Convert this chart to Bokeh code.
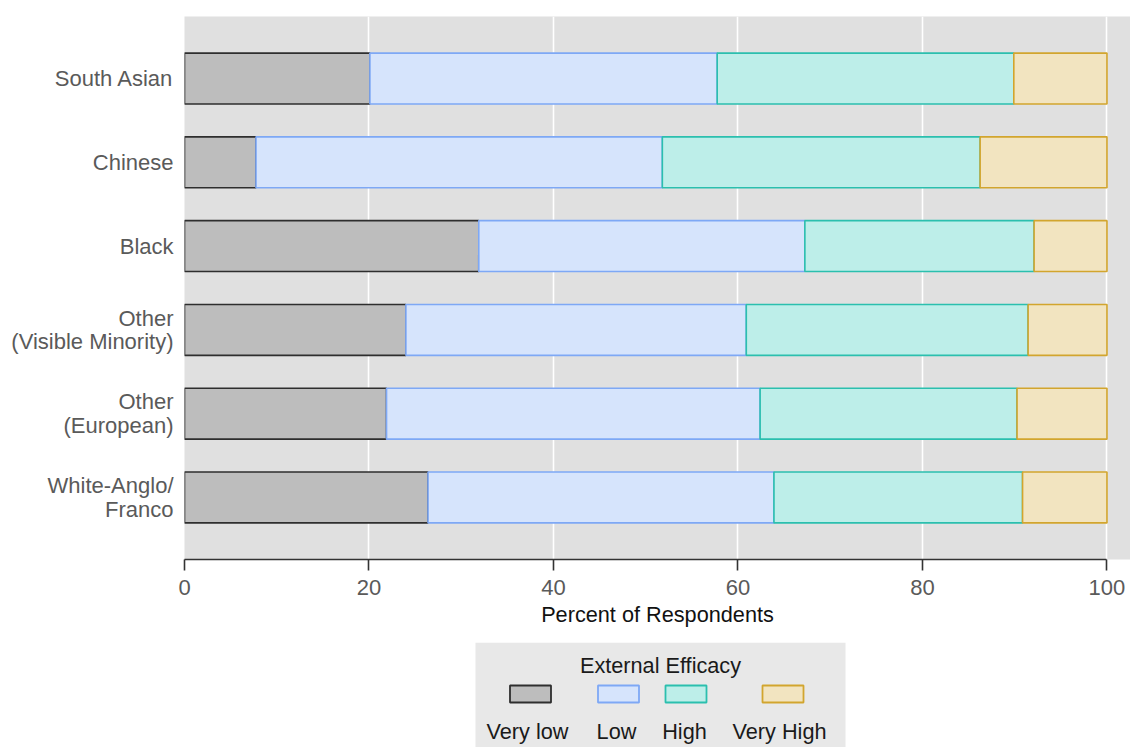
from bokeh.plotting import figure
from bokeh.models import FactorRange, Range1d, FixedTicker, ColumnDataSource
from bokeh.layouts import column
from bokeh.embed import file_html
from bokeh.resources import INLINE
from bokeh.core.properties import value

# ---- data ----
groups = ["South Asian", "Chinese", "Black", "Other\n(Visible Minority)",
          "Other\n(European)", "White-Anglo/\nFranco"]
levels = ["Very low", "Low", "High", "Very High"]
very_low = [20.1, 7.75, 31.9, 24.0, 21.9, 26.4]
low = [37.65, 44.05, 35.35, 36.9, 40.5, 37.5]
high = [32.15, 34.45, 24.85, 30.55, 27.85, 26.95]
very_high = [10.1, 13.75, 7.9, 8.55, 9.75, 9.15]
x_ticks = [0, 20, 40, 60, 80, 100]
legend_title = "External Efficacy"
x_label = "Percent of Respondents"

# ---- styles ----
fills = ["#bdbdbd", "#d6e4fc", "#bdeee9", "#f2e4c0"]
lines = ["#2e2e2e", "#7ea8f5", "#2bbfae", "#d2a52e"]
FONT = "Liberation Sans"
FS = "21.7px"
keys = ["very_low", "low", "high", "very_high"]

source = ColumnDataSource(dict(group=groups, very_low=very_low, low=low,
                               high=high, very_high=very_high))

p = figure(width=1130, height=634, output_backend="svg", toolbar_location=None,
           y_range=FactorRange(factors=groups[::-1], range_padding=0.08),
           x_range=Range1d(0, 102.55),
           min_border_left=184, min_border_right=0, min_border_top=16,
           min_border_bottom=75)
p.background_fill_color = "#e0e0e0"
p.border_fill_color = "white"
p.outline_line_color = None

p.hbar_stack(keys, y="group", height=0.607, source=source,
             fill_color=fills, line_color=lines, line_width=1.6)

# x axis
xa = p.xaxis[0]
xa.ticker = FixedTicker(ticks=x_ticks)
xa.minor_tick_line_color = None
xa.major_tick_in = 0
xa.major_tick_out = 11
xa.axis_line_color = "#333333"
xa.axis_line_width = 1.6
xa.major_tick_line_color = "#333333"
xa.major_tick_line_width = 1.6
xa.bounds = (0, 100)
xa.major_label_text_font = FONT
xa.major_label_text_font_size = "22px"
xa.major_label_text_color = "#5a5a5a"
xa.major_label_standoff = 9
xa.axis_label = x_label
xa.axis_label_text_font = FONT
xa.axis_label_text_font_size = FS
xa.axis_label_text_font_style = "normal"
xa.axis_label_text_color = "#111111"
xa.axis_label_standoff = 4

# y axis
ya = p.yaxis[0]
ya.axis_line_color = None
ya.major_tick_line_color = None
ya.minor_tick_line_color = None
ya.major_tick_in = 0
ya.major_tick_out = 0
ya.major_label_standoff = 11
ya.major_label_text_font = FONT
ya.major_label_text_font_size = "22px"
ya.major_label_text_color = "#5a5a5a"
ya.major_label_text_line_height = 0.95

p.xgrid.ticker = FixedTicker(ticks=x_ticks[1:])
p.xgrid.grid_line_color = "white"
p.xgrid.grid_line_width = 1.6
p.ygrid.grid_line_color = None

# ---- legend panel (same frame borders as the chart, box drawn inside) ----
lg = figure(width=1130, height=113, output_backend="svg", toolbar_location=None,
            x_range=Range1d(0, 946), y_range=Range1d(0, 105),
            min_border_left=184, min_border_right=0, min_border_top=8,
            min_border_bottom=0)
lg.background_fill_color = "white"
lg.border_fill_color = "white"
lg.outline_line_color = None
lg.axis.visible = False
lg.grid.visible = False

box_left, box_right = 291, 661
lg.quad(left=[box_left], right=[box_right], bottom=[0], top=[105],
        fill_color="#e8e8e8", line_color=None)
swatch_x = [box_left + v for v in (55, 143, 210.5, 307.5)]
label_x = [box_left + v for v in (52, 141, 209, 304)]
lsrc = ColumnDataSource(dict(sx=swatch_x, lx=label_x, label=levels,
                             fill=fills, line=lines))
lg.rect(x="sx", y=53.5, width=41, height=17, source=lsrc,
        fill_color="fill", line_color="line", line_width=1.8)
lg.text(x="lx", y=16, text="label", source=lsrc, text_align="center",
        text_baseline="middle", text_font=value(FONT),
        text_font_size=FS, text_color="#1a1a1a")
lg.text(x=[(box_left + box_right) / 2], y=[82], text=[legend_title],
        text_align="center", text_baseline="middle", text_font=value(FONT),
        text_font_size=FS, text_color="#1a1a1a")

layout = column(p, lg, spacing=0)
open("out.html", "w").write(file_html(layout, INLINE))
